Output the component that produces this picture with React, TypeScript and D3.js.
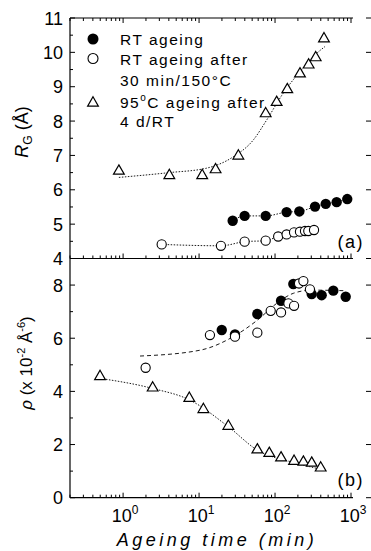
import React from 'react';
import * as d3 from 'd3';

// panel (a): radius of gyration vs ageing time
const rtTimeA = [27.7, 39.8, 75.3, 142, 209, 336, 465, 647, 893];
const rtRgA = [5.1, 5.24, 5.24, 5.35, 5.37, 5.51, 5.59, 5.64, 5.73];
const rt150TimeA = [3.22, 19.4, 39.8, 75.3, 110, 142, 178, 213, 248, 274, 326];
const rt150RgA = [4.41, 4.37, 4.49, 4.52, 4.64, 4.7, 4.76, 4.78, 4.8, 4.8, 4.83];
const t95TimeA = [0.88, 4.06, 11, 16.5, 32.9, 75.3, 105, 145, 213, 277, 343, 441];
const t95RgA = [6.56, 6.43, 6.43, 6.6, 7.0, 8.23, 8.56, 8.93, 9.39, 9.65, 9.86, 10.41];
const fit95TimeA = [0.88, 4.06, 12.6, 28.2, 51.8, 77.6, 128, 213, 353, 455];
const fit95RgA = [6.36, 6.5, 6.63, 6.96, 7.45, 8.03, 8.81, 9.44, 9.97, 10.17];

// panel (b): number density vs ageing time
const rtTimeB = [19.9, 29.7, 58.5, 120, 174, 304, 411, 585, 851];
const rtRhoB = [6.31, 6.14, 6.91, 7.41, 8.04, 7.66, 7.62, 7.79, 7.56];
const rt150TimeB = [1.98, 13.9, 29.7, 58.5, 87.7, 120, 150, 178, 207, 236, 288];
const rt150RhoB = [4.89, 6.12, 6.06, 6.21, 7.03, 6.97, 7.31, 7.22, 8.06, 8.15, 7.84];
const t95TimeB = [0.497, 2.45, 7.44, 11.4, 24.3, 58.5, 84, 120, 178, 236, 304, 399];
const t95RhoB = [4.58, 4.15, 3.76, 3.34, 2.71, 1.82, 1.69, 1.52, 1.39, 1.36, 1.32, 1.14];
const fitRtTimeB = [1.67, 10.3, 28.2, 58.5, 105, 174, 304, 794];
const fitRtRhoB = [5.33, 5.55, 6.06, 6.68, 7.31, 7.69, 7.81, 7.79];
const fit95TimeB = [0.497, 2.45, 7.6, 24.3, 58.5, 178, 399];
const fit95RhoB = [4.49, 4.11, 3.67, 2.67, 1.79, 1.32, 1.07];

const topTicks = [4, 5, 6, 7, 8, 9, 10, 11];
const botTicks = [0, 2, 4, 6, 8];
const xDecades = [0, 1, 2, 3];

const font = 'Liberation Sans, Arial, sans-serif';
const L = 70, Rspine = 353, Redge = 371;

const x = d3.scaleLog().domain([0.2, 1000]).range([L, 351]);
const yA = d3.scaleLinear().domain([4, 11]).range([258.5, 18]);
const yB = d3.scaleLinear().domain([0, 9]).range([497.7, 258.5]);

const zip = (a: number[], b: number[]) => a.map((v, i) => [v, b[i]] as [number, number]);

const tri = d3.symbol(d3.symbolTriangle, 50)()!;

const Markers = ({ pts, y, kind }: { pts: [number, number][]; y: any; kind: string }) => (
  <g>
    {pts.map((p, i) => {
      const cx = x(p[0]), cy = y(p[1]);
      if (kind === 'tri')
        return <path key={i} d={tri} transform={`translate(${cx},${cy + 0.5})`} fill="white" stroke="black" strokeWidth={1.2} />;
      if (kind === 'open')
        return <circle key={i} cx={cx} cy={cy} r={4.6} fill="white" stroke="black" strokeWidth={1.1} />;
      return <circle key={i} cx={cx} cy={cy} r={5.2} fill="black" />;
    })}
  </g>
);

const Curve = ({ pts, y, dash }: { pts: [number, number][]; y: any; dash: string }) => {
  const line = d3.line<[number, number]>().x(d => x(d[0])).y(d => y(d[1])).curve(d3.curveMonotoneX);
  return <path d={line(pts)!} fill="none" stroke="black" strokeWidth={0.9} strokeDasharray={dash} />;
};

const minorX: number[] = [];
for (let d = -1; d <= 2; d++) for (let k = 2; k <= 9; k++) {
  const v = k * Math.pow(10, d);
  if (v >= 0.2 && v <= 1000) minorX.push(v);
}

const XTicks = ({ yPos, dir }: { yPos: number; dir: number }) => (
  <g stroke="black" strokeWidth={1}>
    {xDecades.map(d => <line key={'M' + d} x1={x(Math.pow(10, d))} x2={x(Math.pow(10, d))} y1={yPos} y2={yPos + dir * 5} />)}
    {minorX.map(v => <line key={'m' + v} x1={x(v)} x2={x(v)} y1={yPos} y2={yPos + dir * 3} />)}
  </g>
);

const YTicks = ({ y, major, minor }: { y: any; major: number[]; minor: number[] }) => (
  <g stroke="black" strokeWidth={1}>
    {major.map(v => <line key={'M' + v} x1={L} x2={L + 5} y1={y(v)} y2={y(v)} />)}
    {minor.map(v => <line key={'m' + v} x1={L} x2={L + 3} y1={y(v)} y2={y(v)} />)}
    {major.map(v => <line key={'R' + v} x1={Redge - 5} x2={Redge} y1={y(v)} y2={y(v)} />)}
  </g>
);

export default function App() {
  return (
    <svg width={371} height={551} style={{ position: 'absolute', left: 0, top: 0, background: 'white' }} fontFamily={font}>
      {/* frame */}
      <g stroke="black" strokeWidth={1.2}>
        <line x1={L} x2={L} y1={18} y2={497.7} />
        <line x1={L} x2={Rspine} y1={18} y2={18} />
        <line x1={L} x2={Rspine} y1={258.5} y2={258.5} />
        <line x1={L} x2={Rspine} y1={497.7} y2={497.7} />
      </g>
      <XTicks yPos={18} dir={1} />
      <XTicks yPos={258.5} dir={-1} />
      <XTicks yPos={497.7} dir={-1} />
      <YTicks y={yA} major={topTicks} minor={[4.5, 5.5, 6.5, 7.5, 8.5, 9.5, 10.5]} />
      <YTicks y={yB} major={botTicks} minor={[1, 3, 5, 7]} />

      {/* tick labels */}
      <g fontSize={18} textAnchor="end">
        {topTicks.map(v => <text key={v} x={63} y={yA(v) + 6.5}>{v}</text>)}
        {botTicks.map(v => <text key={v} x={63} y={yB(v) + 6.5}>{v}</text>)}
      </g>
      <g fontSize={18} textAnchor="middle">
        {xDecades.map(d => (
          <text key={d} x={x(Math.pow(10, d)) + 2} y={522}>10<tspan fontSize={12} dy={-8}>{d}</tspan></text>
        ))}
      </g>

      {/* axis titles */}
      <text transform="translate(28,132) rotate(-90)" textAnchor="middle" fontSize={18}>
        <tspan fontStyle="italic">R</tspan><tspan fontSize={12} dy={4}>G</tspan><tspan dy={-4}> (Å)</tspan>
      </text>
      <text transform="translate(32,363) rotate(-90)" textAnchor="middle" fontSize={17}>
        <tspan fontStyle="italic">ρ</tspan> (x 10<tspan fontSize={11} dy={-7}>-2</tspan><tspan dy={7}> Å</tspan><tspan fontSize={11} dy={-7}>-6</tspan><tspan dy={7}>)</tspan>
      </text>
      <text x={217} y={546} textAnchor="middle" fontSize={18} fontStyle="italic" letterSpacing={3.5}>Ageing time (min)</text>

      <text x={364} y={248} textAnchor="end" fontSize={18} letterSpacing={1.5}>(a)</text>
      <text x={364} y={486} textAnchor="end" fontSize={18} letterSpacing={1.5}>(b)</text>

      {/* panel (a) */}
      <Curve pts={zip(fit95TimeA, fit95RgA)} y={yA} dash="1.5,1.5" />
      <Curve pts={zip(rtTimeA, rtRgA)} y={yA} dash="1.5,1.5" />
      <Curve pts={zip(rt150TimeA, rt150RgA)} y={yA} dash="1.5,1.5" />
      <Markers pts={zip(t95TimeA, t95RgA)} y={yA} kind="tri" />
      <Markers pts={zip(rtTimeA, rtRgA)} y={yA} kind="filled" />
      <Markers pts={zip(rt150TimeA, rt150RgA)} y={yA} kind="open" />

      {/* panel (b) */}
      <Curve pts={zip(fitRtTimeB, fitRtRhoB)} y={yB} dash="4,3" />
      <Curve pts={zip(fit95TimeB, fit95RhoB)} y={yB} dash="1.5,1.5" />
      <Markers pts={zip(t95TimeB, t95RhoB)} y={yB} kind="tri" />
      <Markers pts={zip(rtTimeB, rtRhoB)} y={yB} kind="filled" />
      <Markers pts={zip(rt150TimeB, rt150RhoB)} y={yB} kind="open" />

      {/* legend */}
      <g fontSize={15.5} letterSpacing={1.5}>
        <circle cx={93} cy={39} r={5.5} fill="black" />
        <text x={120} y={44.5}>RT ageing</text>
        <circle cx={93} cy={58.5} r={5} fill="white" stroke="black" strokeWidth={1.1} />
        <text x={120} y={64.5}>RT ageing after</text>
        <text x={120} y={86}>30 min/150°C</text>
        <path d={tri} transform="translate(93,103)" fill="white" stroke="black" strokeWidth={1.2} />
        <text x={120} y={108}>95<tspan fontSize={10} dy={-7}>o</tspan><tspan dy={7}>C ageing after</tspan></text>
        <text x={120} y={127}>4 d/RT</text>
      </g>
    </svg>
  );
}
